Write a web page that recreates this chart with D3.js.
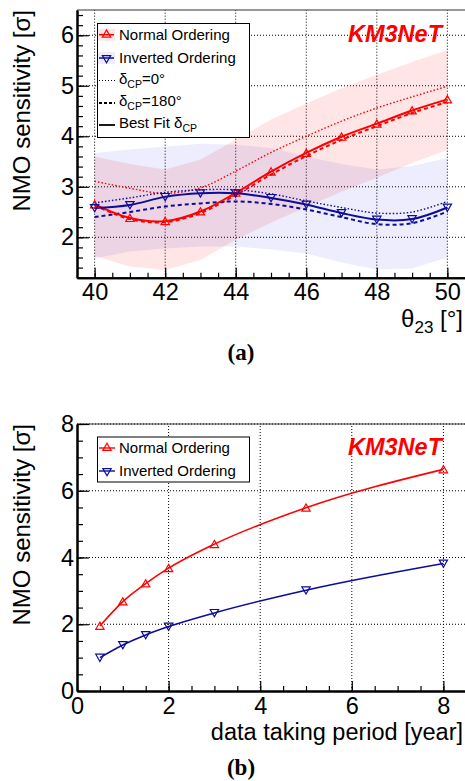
<!doctype html>
<html>
  <head>
    <script src="https://d3js.org/d3.v7.min.js"></script>
    <style>
        body { margin: 0; padding: 0; background: #fff; }
        svg { font-family: "Liberation Sans", Arial, sans-serif; }
        .grid line { stroke: #000; stroke-width: 1; stroke-dasharray: 1,2; }
        .axis .domain { stroke: #000; stroke-width: 2; }
        .axis line { stroke: #000; stroke-width: 1.2; }
        .axis text { font-size: 23.5px; fill: #000; }
    </style>
  </head>
  <body>
    <div id="chart"></div>
    <script>
        /*
        data
        */
        // panel (a): sensitivity vs theta23
        var theta = [40, 41, 42, 43, 44, 45, 46, 47, 48, 49, 50];
        var noBest = [2.65, 2.38, 2.32, 2.51, 2.88, 3.30, 3.67, 3.99, 4.25, 4.51, 4.73];
        var no180 = [2.63, 2.36, 2.30, 2.48, 2.84, 3.24, 3.61, 3.93, 4.20, 4.46, 4.68];
        var no0 = [3.11, 2.97, 2.87, 2.98, 3.31, 3.68, 4.00, 4.30, 4.56, 4.78, 4.99];
        var ioBest = [2.58, 2.64, 2.80, 2.87, 2.87, 2.78, 2.65, 2.48, 2.35, 2.36, 2.59];
        var io180 = [2.40, 2.50, 2.61, 2.67, 2.71, 2.66, 2.55, 2.40, 2.26, 2.28, 2.51];
        var io0 = [2.68, 2.78, 2.89, 2.94, 2.94, 2.86, 2.72, 2.59, 2.48, 2.50, 2.71];
        var noBandHi = [3.60, 3.45, 3.34, 3.54, 3.93, 4.33, 4.65, 4.95, 5.22, 5.47, 5.71];
        var noBandLo = [1.63, 1.42, 1.35, 1.55, 1.95, 2.29, 2.60, 2.90, 3.18, 3.47, 3.73];
        var ioBandHi = [3.67, 3.74, 3.80, 3.85, 3.83, 3.77, 3.60, 3.45, 3.34, 3.41, 3.57];
        var ioBandLo = [1.58, 1.72, 1.78, 1.82, 1.82, 1.76, 1.68, 1.50, 1.36, 1.38, 1.60];
        var thetaTicks = [40, 42, 44, 46, 48, 50];
        var sigmaTicksA = [2, 3, 4, 5, 6];

        // panel (b): sensitivity vs data taking period
        var years = [0.5, 1, 1.5, 2, 3, 5, 8];
        var noYears = [1.95, 2.68, 3.22, 3.68, 4.40, 5.49, 6.64];
        var ioYears = [1.00, 1.38, 1.68, 1.93, 2.34, 3.02, 3.82];
        var yearTicks = [0, 2, 4, 6, 8];
        var sigmaTicksB = [0, 2, 4, 6, 8];

        var red = "#ff0000";
        var blue = "#0d0d99";
        var bandBlue = "#0000dd";

        var svg = d3.select("#chart")
            .append("svg")
            .attr("width", 465)
            .attr("height", 781);

        var triUp = d3.symbol().type(d3.symbolTriangle).size(30);

        function markers(g, xs, ys, x, y, color, down) {
            g.selectAll(null)
                .data(xs.map((d, i) => [d, ys[i]]))
                .enter()
                .append("path")
                .attr("d", triUp)
                .attr("transform", (d) => "translate(" + x(d[0]) + "," + (y(d[1]) + (down ? -1 : 1)) + ")" + (down ? " rotate(180)" : ""))
                .attr("fill", "none")
                .attr("stroke", color)
                .attr("stroke-width", 1.2);
        }

        function grid(g, x, y, xTicks, yTicks, x0, x1, y0, y1) {
            var gr = g.append("g").attr("class", "grid");
            gr.selectAll(null).data(xTicks).enter().append("line")
                .attr("x1", (d) => x(d)).attr("x2", (d) => x(d))
                .attr("y1", y0).attr("y2", y1);
            gr.selectAll(null).data(yTicks).enter().append("line")
                .attr("x1", x0).attr("x2", x1)
                .attr("y1", (d) => y(d)).attr("y2", (d) => y(d));
            // frame top
            g.append("line").attr("x1", x0).attr("x2", x1).attr("y1", y1).attr("y2", y1)
                .attr("stroke", "#333").attr("stroke-width", 1);
        }

        function drawAxes(g, x, y, xTicks, xMinor, yTicks, yMinor, x0, y0) {
            var fmt = d3.format("d");
            g.append("g").attr("class", "axis")
                .attr("transform", "translate(0," + y0 + ")")
                .call(d3.axisBottom(x).tickValues(xMinor).tickSizeInner(-5).tickSizeOuter(0).tickFormat(""));
            g.append("g").attr("class", "axis")
                .attr("transform", "translate(0," + y0 + ")")
                .call(d3.axisBottom(x).tickValues(xTicks).tickSizeInner(-10).tickSizeOuter(0).tickPadding(6).tickFormat(fmt));
            g.append("g").attr("class", "axis")
                .attr("transform", "translate(" + x0 + ",0)")
                .call(d3.axisLeft(y).tickValues(yMinor).tickSizeInner(-6).tickSizeOuter(0).tickFormat(""));
            g.append("g").attr("class", "axis")
                .attr("transform", "translate(" + x0 + ",0)")
                .call(d3.axisLeft(y).tickValues(yTicks).tickSizeInner(-12).tickSizeOuter(0).tickPadding(3).tickFormat(fmt));
        }

        /*
        Panel (a)
        */
        var gA = svg.append("g");
        var xA = d3.scaleLinear().domain([39.5, 50.5]).range([77, 465]);
        var yA = d3.scaleLinear().domain([1.2, 6.5]).range([277.7, 10]);

        grid(gA, xA, yA, thetaTicks, sigmaTicksA, 77, 465, 277.7, 10);

        var band = d3.area().x((d) => xA(d[0])).y0((d) => yA(d[1])).y1((d) => yA(d[2]));
        gA.append("path")
            .datum(theta.map((t, i) => [t, noBandLo[i], noBandHi[i]]))
            .attr("d", band)
            .attr("fill", red).attr("fill-opacity", 0.1);
        gA.append("path")
            .datum(theta.map((t, i) => [t, ioBandLo[i], ioBandHi[i]]))
            .attr("d", band)
            .attr("fill", bandBlue).attr("fill-opacity", 0.07);

        var lineA = d3.line().x((d) => xA(d[0])).y((d) => yA(d[1])).curve(d3.curveCatmullRom);
        var seriesA = [
            [no0, red, "1.5,2", 1.4],
            [io0, blue, "1.5,2", 1.4],
            [no180, red, "4,3", 2],
            [io180, blue, "4,3", 2],
            [noBest, red, null, 2],
            [ioBest, blue, null, 2]
        ];
        seriesA.forEach(function (s) {
            gA.append("path")
                .datum(theta.map((t, i) => [t, s[0][i]]))
                .attr("d", lineA)
                .attr("fill", "none")
                .attr("stroke", s[1])
                .attr("stroke-width", s[3])
                .attr("stroke-dasharray", s[2]);
        });
        markers(gA, theta, noBest, xA, yA, red, false);
        markers(gA, theta, ioBest, xA, yA, blue, true);

        drawAxes(gA, xA, yA, thetaTicks, d3.range(40, 50.01, 0.5), sigmaTicksA, d3.range(1.2, 6.51, 0.2), 77, 277.7);

        // legend (a)
        var legA = gA.append("g");
        legA.append("rect").attr("x", 97.5).attr("y", 23.5).attr("width", 152).attr("height", 114)
            .attr("fill", "#fff").attr("stroke", "#000").attr("stroke-width", 1);
        var legRowsA = [34.7, 58, 80.5, 103, 125];
        [[red, red, 0.1, false], [blue, bandBlue, 0.07, true]].forEach(function (e, i) {
            var cy = legRowsA[i];
            legA.append("rect").attr("x", 98).attr("y", cy - 6).attr("width", 17).attr("height", 12)
                .attr("fill", e[1]).attr("fill-opacity", e[2]);
            legA.append("line").attr("x1", 99).attr("x2", 114).attr("y1", cy).attr("y2", cy)
                .attr("stroke", e[0]).attr("stroke-width", 1.5);
            legA.append("path").attr("d", triUp)
                .attr("transform", "translate(106.5," + cy + ")" + (e[3] ? " rotate(180)" : ""))
                .attr("fill", "none").attr("stroke", e[0]).attr("stroke-width", 1.2);
        });
        [["1,2", 1.2], ["3,2", 1.8], [null, 1.8]].forEach(function (e, i) {
            var cy = legRowsA[i + 2];
            legA.append("line").attr("x1", 99).attr("x2", 115).attr("y1", cy).attr("y2", cy)
                .attr("stroke", "#000").attr("stroke-width", e[1]).attr("stroke-dasharray", e[0]);
        });
        var legText = legA.append("g").attr("font-size", "15px");
        legText.append("text").attr("x", 119).attr("y", legRowsA[0] + 5).text("Normal Ordering");
        legText.append("text").attr("x", 119).attr("y", legRowsA[1] + 5).text("Inverted Ordering");
        var t0 = legText.append("text").attr("x", 119).attr("y", legRowsA[2] + 3);
        t0.append("tspan").text("δ");
        t0.append("tspan").attr("font-size", "10.5px").attr("dy", 4).text("CP");
        t0.append("tspan").attr("dy", -4).text("=0°");
        var t1 = legText.append("text").attr("x", 119).attr("y", legRowsA[3] + 3);
        t1.append("tspan").text("δ");
        t1.append("tspan").attr("font-size", "10.5px").attr("dy", 4).text("CP");
        t1.append("tspan").attr("dy", -4).text("=180°");
        var t2 = legText.append("text").attr("x", 119).attr("y", legRowsA[4] + 3);
        t2.append("tspan").text("Best Fit δ");
        t2.append("tspan").attr("font-size", "10.5px").attr("dy", 4).text("CP");

        gA.append("text").attr("x", 442).attr("y", 41.7).attr("text-anchor", "end")
            .attr("font-size", "23.5px").attr("font-weight", "bold").attr("font-style", "italic")
            .attr("fill", red).text("KM3NeT");

        gA.append("text").attr("transform", "translate(30,10) rotate(-90)")
            .attr("text-anchor", "end").attr("font-size", "24px").text("NMO sensitivity [σ]");

        var tt = gA.append("text").attr("x", 463).attr("y", 327).attr("text-anchor", "end").attr("font-size", "24px");
        tt.append("tspan").text("θ");
        tt.append("tspan").attr("font-size", "17px").attr("dy", 6).text("23");
        tt.append("tspan").attr("dy", -6).text(" [°]");

        gA.append("text").attr("x", 241).attr("y", 360).attr("text-anchor", "middle")
            .attr("font-family", "'Liberation Serif', 'Times New Roman', serif")
            .attr("font-weight", "bold").attr("font-size", "23px").text("(a)");

        /*
        Panel (b)
        */
        var gB = svg.append("g");
        var xB = d3.scaleLinear().domain([0, 8.5]).range([77, 466.3]);
        var yB = d3.scaleLinear().domain([0, 8]).range([691, 424]);

        grid(gB, xB, yB, [2, 4, 6, 8], [2, 4, 6, 8], 77, 465, 691, 424);

        var lineB = d3.line().x((d) => xB(d[0])).y((d) => yB(d[1])).curve(d3.curveMonotoneX);
        [[noYears, red, false], [ioYears, blue, true]].forEach(function (s) {
            gB.append("path")
                .datum(years.map((t, i) => [t, s[0][i]]))
                .attr("d", lineB)
                .attr("fill", "none")
                .attr("stroke", s[1])
                .attr("stroke-width", 1.6);
            markers(gB, years, s[0], xB, yB, s[1], s[2]);
        });

        drawAxes(gB, xB, yB, yearTicks, d3.range(0, 8.51, 0.5), sigmaTicksB, d3.range(0, 8.01, 0.5), 77, 691);

        var legB = gB.append("g");
        legB.append("rect").attr("x", 97.5).attr("y", 437).attr("width", 152).attr("height", 45)
            .attr("fill", "#fff").attr("stroke", "#000").attr("stroke-width", 1);
        [[448, red, false, "Normal Ordering"], [471, blue, true, "Inverted Ordering"]].forEach(function (e) {
            legB.append("line").attr("x1", 99).attr("x2", 115).attr("y1", e[0]).attr("y2", e[0])
                .attr("stroke", e[1]).attr("stroke-width", 1.4);
            legB.append("path").attr("d", triUp)
                .attr("transform", "translate(107," + e[0] + ")" + (e[2] ? " rotate(180)" : ""))
                .attr("fill", "none").attr("stroke", e[1]).attr("stroke-width", 1.2);
            legB.append("text").attr("x", 119).attr("y", e[0] + 5).attr("font-size", "15px").text(e[3]);
        });

        gB.append("text").attr("x", 442).attr("y", 455).attr("text-anchor", "end")
            .attr("font-size", "23.5px").attr("font-weight", "bold").attr("font-style", "italic")
            .attr("fill", red).text("KM3NeT");

        gB.append("text").attr("transform", "translate(30,424) rotate(-90)")
            .attr("text-anchor", "end").attr("font-size", "24px").text("NMO sensitivity [σ]");

        gB.append("text").attr("x", 463).attr("y", 740).attr("text-anchor", "end")
            .attr("font-size", "23.5px").text("data taking period [year]");

        gB.append("text").attr("x", 241).attr("y", 775).attr("text-anchor", "middle")
            .attr("font-family", "'Liberation Serif', 'Times New Roman', serif")
            .attr("font-weight", "bold").attr("font-size", "23px").text("(b)");
    </script>
  </body>
</html>
